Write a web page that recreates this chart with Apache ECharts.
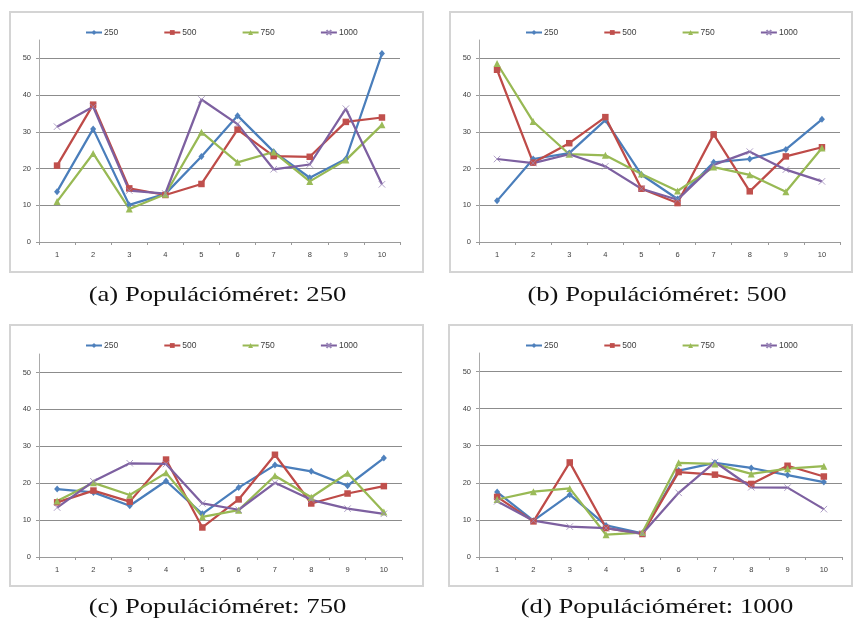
<!DOCTYPE html>
<html>
<head>
<meta charset="utf-8">
<script src="https://cdn.jsdelivr.net/npm/echarts@6/dist/echarts.min.js"></script>
<style>html,body{margin:0;padding:0;background:#fff}#c{width:853px;height:621px}</style>
</head>
<body>
<div id="c"></div>
<script>
const cats = ['1','2','3','4','5','6','7','8','9','10'];
const seriesNames = ['250','500','750','1000'];
const yTicks = [0,10,20,30,40,50];
const captions = ['(a) Populációméret: 250','(b) Populációméret: 500','(c) Populációméret: 750','(d) Populációméret: 1000'];

const a250  = [13.7,30.8,10.1,13.1,23.3,34.4,24.6,17.5,22.6,51.3];
const a500  = [20.8,37.4,14.6,12.8,15.8,30.6,23.4,23.2,32.7,33.9];
const a750  = [11.0,24.1,9.0,13.0,29.9,21.7,24.5,16.5,22.3,31.9];
const a1000 = [31.4,36.8,14.0,13.2,38.8,32.1,19.8,21.1,36.3,15.7];

const b250  = [11.2,22.6,24.2,33.2,18.3,11.7,21.7,22.6,25.2,33.4];
const b500  = [46.9,21.6,26.9,34.0,14.5,10.6,29.3,13.8,23.3,25.8];
const b750  = [48.6,32.8,23.9,23.6,18.5,13.9,20.4,18.3,13.7,25.6];
const b1000 = [22.6,21.5,23.9,20.6,14.5,11.5,21.0,24.6,19.7,16.5];

const c250  = [18.4,17.5,13.9,20.6,11.7,18.8,24.9,23.2,19.3,26.8];
const c500  = [14.8,18.0,15.0,26.4,8.0,15.6,27.7,14.5,17.2,19.2];
const c750  = [15.2,20.1,16.8,22.8,10.9,12.7,22.0,16.2,22.7,12.2];
const c1000 = [13.4,20.5,25.4,25.2,14.5,12.8,20.1,15.5,13.1,11.7];

const d250  = [17.5,9.8,16.8,8.5,6.4,23.3,25.4,24.0,22.1,20.2];
const d500  = [16.2,9.6,25.5,7.8,6.2,22.9,22.2,19.7,24.6,21.7];
const d750  = [15.5,17.6,18.5,6.0,6.6,25.4,25.1,22.4,23.8,24.5];
const d1000 = [15.0,9.8,8.2,7.8,6.3,17.3,25.6,18.8,18.7,12.9];

const panels = [
  {data:[a250,a500,a750,a1000], grid:{left:39,top:40,width:361,height:202}, legend:{left:85,top:28}, frame:{x:10,y:12,width:413,height:260}, cap:{x:217.5,y:295}},
  {data:[b250,b500,b750,b1000], grid:{left:479,top:40,width:361,height:202}, legend:{left:525,top:28}, frame:{x:450,y:12,width:402,height:260}, cap:{x:657,y:295}},
  {data:[c250,c500,c750,c1000], grid:{left:39,top:354,width:363,height:203}, legend:{left:85,top:341}, frame:{x:10,y:325,width:413,height:261}, cap:{x:217.5,y:607}},
  {data:[d250,d500,d750,d1000], grid:{left:479,top:353,width:363,height:204}, legend:{left:525,top:341}, frame:{x:449,y:325,width:403,height:261}, cap:{x:657,y:607}}
];

const lineColors = ['#4A7EBB','#BE4B48','#98B954','#7D60A0'];
const markColors = ['#4F81BD','#C0504D','#9BBB59','#8064A2'];
const symbols = ['diamond','rect','triangle','path://M0 0L10 10M10 0L0 10'];
const symSizes = [[6,7],6.5,7,6.5];
const font = '"Liberation Sans", Arial, sans-serif';
const legendStep = 78.3;

const grids = [], xAxes = [], yAxes = [], legends = [], series = [], graphics = [];
panels.forEach((p, i) => {
  graphics.push({type:'rect', z:-10, shape:p.frame, style:{fill:'#fff', stroke:'#D4D4D4', lineWidth:2}});
  graphics.push({type:'text', z:10, x:p.cap.x, y:p.cap.y, scaleX:1.27,
    style:{text:captions[i], font:'21px "Liberation Serif", "DejaVu Serif", serif', fill:'#111', textAlign:'center', textVerticalAlign:'middle'}});
  grids.push(Object.assign({containLabel:false}, p.grid));
  seriesNames.forEach((nm, k) => {
    legends.push({left:p.legend.left + k * legendStep, top:p.legend.top, padding:0, itemWidth:16, itemHeight:6, itemGap:0,
      textStyle:{fontSize:8.5, color:'#404040', fontFamily:font, padding:[0,0,0,-3]}, data:[nm]});
  });
  xAxes.push({type:'category', gridIndex:i, data:cats, boundaryGap:true,
    axisLine:{show:true, lineStyle:{color:'#9A9A9A', width:1}},
    axisTick:{show:true, interval:0, length:3, lineStyle:{color:'#9A9A9A'}},
    axisLabel:{interval:0, fontSize:7.5, color:'#404040', fontFamily:font, margin:9},
    splitLine:{show:false}});
  yAxes.push({type:'value', gridIndex:i, min:0, max:55, interval:10,
    axisLine:{show:true, lineStyle:{color:'#ABABAB', width:1}},
    axisTick:{show:true, length:3, lineStyle:{color:'#9A9A9A'}, customValues:yTicks},
    axisLabel:{fontSize:7.5, color:'#404040', fontFamily:font, margin:8, customValues:yTicks},
    splitLine:{show:true, lineStyle:{color:'#8C8C8C', width:1}}});
  p.data.forEach((arr, k) => {
    const s = {type:'line', name:seriesNames[k], xAxisIndex:i, yAxisIndex:i, data:arr,
      symbol:symbols[k], symbolSize:symSizes[k], showAllSymbol:true,
      lineStyle:{width:2.25, color:lineColors[k]},
      itemStyle:{color:markColors[k]}, emphasis:{disabled:true}};
    if (k === 3) s.itemStyle = {color:'rgba(0,0,0,0)', borderColor:'#9A86B8', borderWidth:0.8};
    series.push(s);
  });
});

const chart = echarts.init(document.getElementById('c'), null, {renderer:'canvas'});
chart.setOption({
  animation:false,
  backgroundColor:'#fff',
  graphic:graphics,
  grid:grids, xAxis:xAxes, yAxis:yAxes, legend:legends, series:series
});
</script>
</body>
</html>
